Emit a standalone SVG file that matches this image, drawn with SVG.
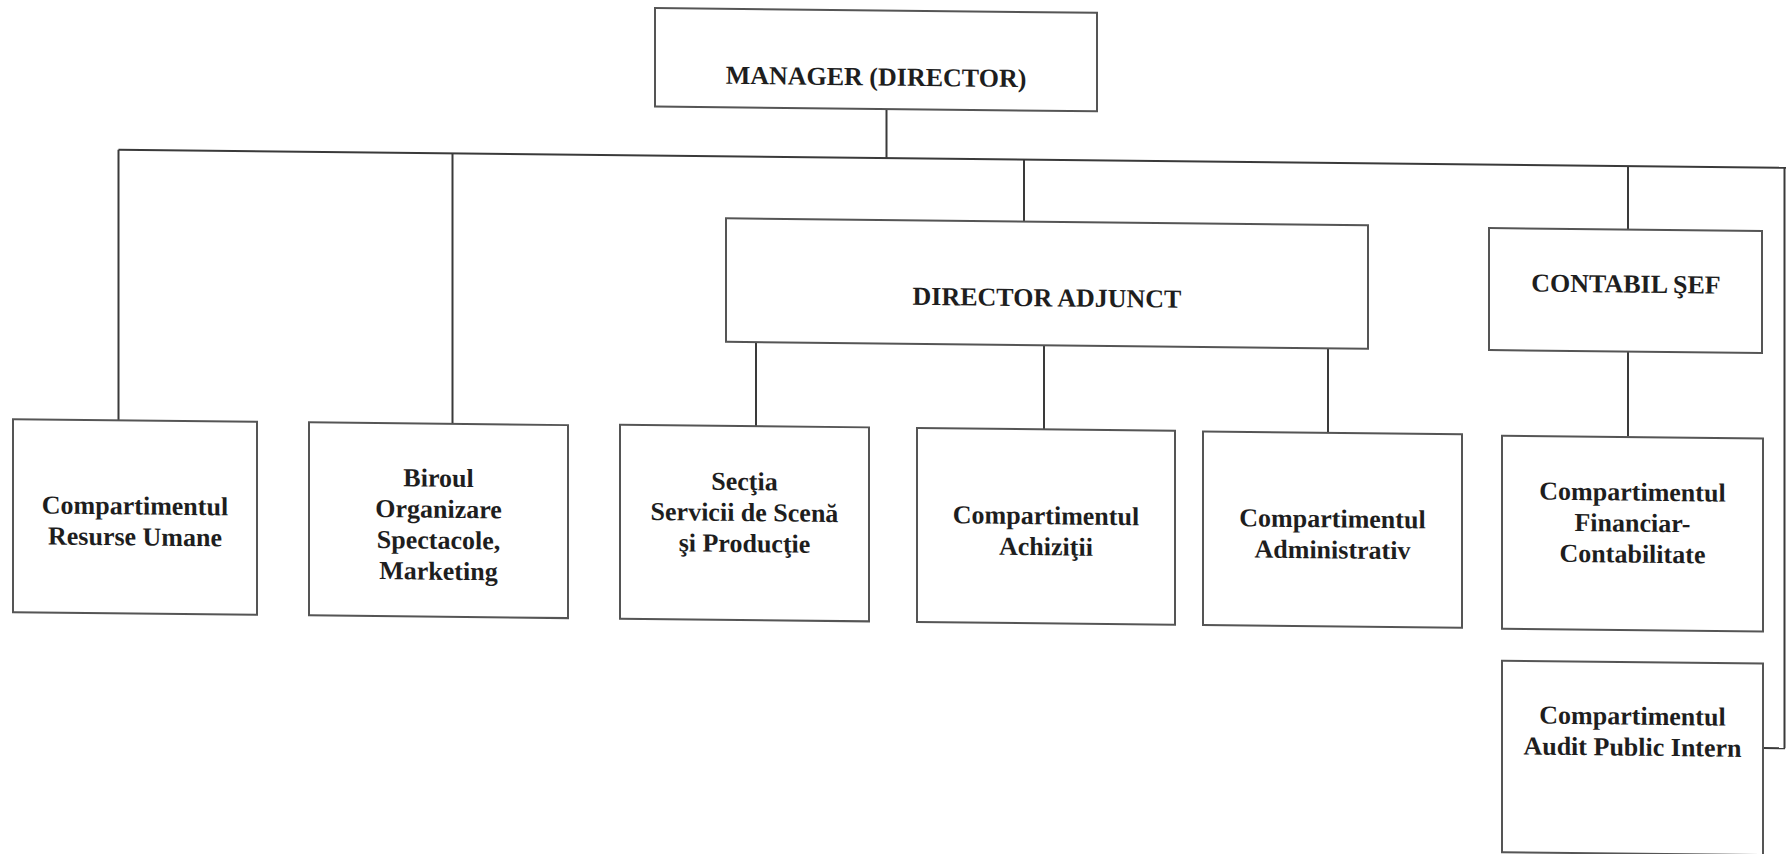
<svg xmlns="http://www.w3.org/2000/svg" width="1786" height="854" viewBox="0 0 1786 854">
<style>
.box{fill:#fff;stroke:#555;stroke-width:2}
.ln{fill:none;stroke:#3a3a3a;stroke-width:2}
text{font-family:"Liberation Serif","Times New Roman",serif;font-weight:bold;font-size:26px;fill:#1e1e1e;text-anchor:middle}
</style>
<rect width="1786" height="854" fill="#fff"/>
<g transform="matrix(1 0.0108 0 1 0 0)">
<g id="connectors">
<line class="ln" x1="886.5" y1="99.5" x2="886.5" y2="148.5"/>
<line class="ln" x1="118.5" y1="148.5" x2="1786" y2="148.5"/>
<line class="ln" x1="118.5" y1="148.5" x2="118.5" y2="419"/>
<line class="ln" x1="452.5" y1="148.5" x2="452.5" y2="419"/>
<line class="ln" x1="1024" y1="148.5" x2="1024" y2="210.5"/>
<line class="ln" x1="1628" y1="148.5" x2="1628" y2="212"/>
<line class="ln" x1="1628" y1="334" x2="1628" y2="419"/>
<line class="ln" x1="756" y1="334" x2="756" y2="418"/>
<line class="ln" x1="1044" y1="334" x2="1044" y2="418"/>
<line class="ln" x1="1328" y1="334" x2="1328" y2="418"/>
<line class="ln" x1="1784.5" y1="148.5" x2="1784.5" y2="729"/>
<line class="ln" x1="1763" y1="729" x2="1785" y2="729"/>
</g>
<g id="manager">
<rect class="box" x="655" y="1" width="442" height="98.5"/>
<text x="876" y="76">MANAGER (DIRECTOR)</text>
</g>
<g id="director-adjunct">
<rect class="box" x="726" y="210.5" width="642" height="123.5"/>
<text x="1047" y="295">DIRECTOR ADJUNCT</text>
</g>
<g id="contabil-sef">
<rect class="box" x="1489" y="212" width="273" height="122"/>
<text x="1626" y="275">CONTABIL ŞEF</text>
</g>
<g id="resurse-umane">
<rect class="box" x="13" y="419" width="244" height="193"/>
<text x="135" y="513">Compartimentul</text>
<text x="135" y="544">Resurse Umane</text>
</g>
<g id="biroul-organizare">
<rect class="box" x="309" y="419" width="259" height="193"/>
<text x="438.5" y="482">Biroul</text>
<text x="438.5" y="513">Organizare</text>
<text x="438.5" y="544">Spectacole,</text>
<text x="438.5" y="575">Marketing</text>
</g>
<g id="sectia-servicii">
<rect class="box" x="620" y="418" width="249" height="194"/>
<text x="744.5" y="482">Secţia</text>
<text x="744.5" y="513">Servicii de Scenă</text>
<text x="744.5" y="544">şi Producţie</text>
</g>
<g id="achizitii">
<rect class="box" x="917" y="418" width="258" height="194"/>
<text x="1046" y="513">Compartimentul</text>
<text x="1046" y="544">Achiziţii</text>
</g>
<g id="administrativ">
<rect class="box" x="1203" y="418.5" width="259" height="193.5"/>
<text x="1332.5" y="513">Compartimentul</text>
<text x="1332.5" y="544">Administrativ</text>
</g>
<g id="financiar-contabilitate">
<rect class="box" x="1502" y="419.5" width="261" height="193"/>
<text x="1632.5" y="483">Compartimentul</text>
<text x="1632.5" y="514">Financiar-</text>
<text x="1632.5" y="545">Contabilitate</text>
</g>
<g id="audit-public-intern">
<rect class="box" x="1502" y="644.5" width="261" height="191.5"/>
<text x="1632.5" y="707">Compartimentul</text>
<text x="1632.5" y="738">Audit Public Intern</text>
</g>
</g>
</svg>
